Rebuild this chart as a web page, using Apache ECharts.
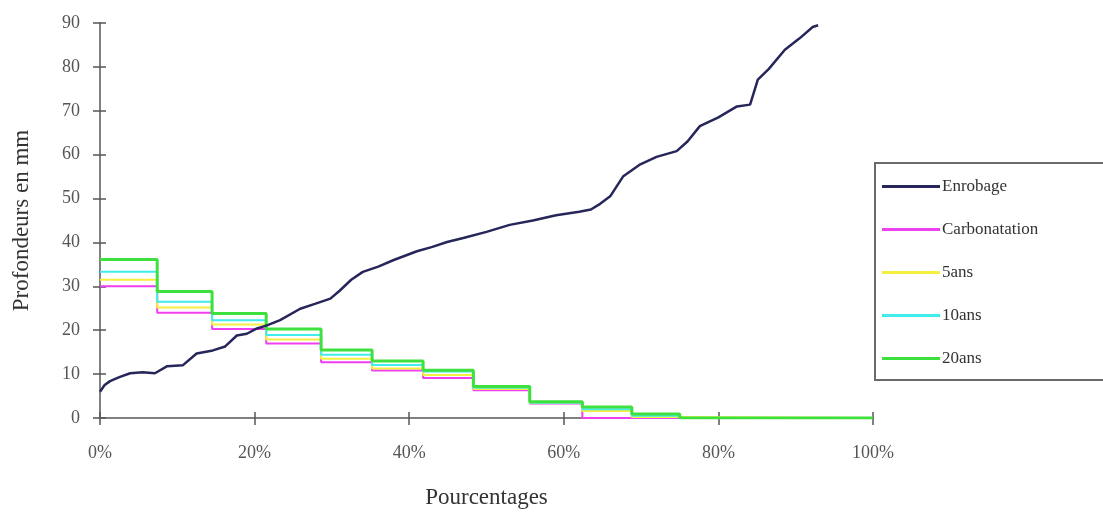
<!DOCTYPE html>
<html>
<head>
<meta charset="utf-8">
<script src="https://cdn.jsdelivr.net/npm/echarts@6/dist/echarts.min.js"></script>
<style>html,body{margin:0;padding:0;background:#fff}#c{width:1103px;height:514px}</style>
</head>
<body>
<div id="c"></div>
<script>
// ---- data ----
var enrobageX = [0, 0.6, 1.3, 2.5, 3.9, 5.5, 7.1, 8.7, 10.7, 12.5, 14.6, 16.2, 17.7, 19.0, 20.3, 21.6, 23.3, 25.9, 27.8, 29.8, 31.0, 32.5, 34.0, 36.0, 38.0, 41.0, 43.0, 44.9, 47.0, 50.0, 53.0, 56.0, 59.0, 62.0, 63.5, 64.7, 66.0, 67.7, 69.9, 72.0, 74.6, 76.0, 77.6, 80.0, 82.4, 84.1, 85.1, 86.5, 88.6, 90.5, 92.2, 92.9];
var enrobage  = [6, 7.5, 8.4, 9.3, 10.2, 10.4, 10.2, 11.8, 12, 14.7, 15.4, 16.3, 18.8, 19.2, 20.4, 21.1, 22.3, 24.9, 26, 27.2, 29, 31.5, 33.3, 34.5, 36, 38, 39, 40.1, 41, 42.4, 44, 45, 46.2, 47, 47.5, 48.8, 50.5, 55.1, 57.8, 59.5, 60.8, 63, 66.5, 68.5, 71, 71.4, 77.1, 79.5, 83.9, 86.5, 89.1, 89.5];
var stepStarts    = [0, 7.4, 14.5, 21.5, 28.6, 35.2, 41.8, 48.3, 55.6, 62.4, 68.8, 75.0, 100];
var carbonatation = [30.0, 24.0, 20.3, 17.0, 12.7, 10.8, 9.1, 6.3, 3.3, 0, 0, 0, 0];
var ans5          = [31.5, 25.2, 21.3, 17.9, 13.5, 11.3, 9.8, 6.6, 3.4, 1.6, 0.2, 0, 0];
var ans10         = [33.3, 26.5, 22.3, 18.9, 14.4, 12.1, 10.6, 6.9, 3.5, 2.0, 0.5, 0, 0];
var ans20         = [36.1, 28.8, 23.8, 20.3, 15.5, 13.0, 10.9, 7.2, 3.7, 2.5, 0.9, 0, 0];
var seriesNames = ['Enrobage', 'Carbonatation', '5ans', '10ans', '20ans'];
var xTitle = 'Pourcentages';
var yTitle = 'Profondeurs en mm';

function pairs(xs, ys){ return xs.map(function(x,i){ return [x, ys[i]]; }); }

var font = 'Liberation Serif, Times New Roman, serif';
var axisCol = '#808080';

var chart = echarts.init(document.getElementById('c'), null, {renderer:'canvas'});
var baseX = {type:'value', min:0, max:100, interval:20, splitLine:{show:false},
  axisLine:{lineStyle:{color:axisCol, width:2}}};
var baseY = {type:'value', min:0, max:90, interval:10, splitLine:{show:false},
  axisLine:{show:true, lineStyle:{color:axisCol, width:2}}};

chart.setOption({
  animation:false,
  grid:{left:100, right:230, top:23, bottom:94},
  xAxis:[
    Object.assign({}, baseX, {
      axisTick:{show:true, inside:false, length:7, lineStyle:{color:'#555', width:1.5}},
      axisLabel:{formatter:'{value}%', color:'#555', fontFamily:font, fontSize:18, margin:26},
      name:xTitle, nameLocation:'middle', nameGap:68,
      nameTextStyle:{color:'#333', fontFamily:font, fontSize:23}
    }),
    Object.assign({}, baseX, {position:'bottom',
      axisTick:{show:true, inside:true, length:6, lineStyle:{color:'#555', width:1.5}},
      axisLabel:{show:false}})
  ],
  yAxis:[
    Object.assign({}, baseY, {
      axisTick:{show:true, inside:false, length:7, lineStyle:{color:'#555', width:1.5}},
      axisLabel:{color:'#555', fontFamily:font, fontSize:18, margin:20},
      name:yTitle, nameLocation:'middle', nameGap:67, nameRotate:90,
      nameTextStyle:{color:'#333', fontFamily:font, fontSize:23}
    }),
    Object.assign({}, baseY, {position:'left',
      axisTick:{show:true, inside:true, length:6, lineStyle:{color:'#555', width:1.5}},
      axisLabel:{show:false}})
  ],
  legend:{
    orient:'vertical', left:882, top:178, padding:0, itemGap:26,
    itemWidth:58, itemHeight:14, icon:'path://M0,5.5 L58,5.5 L58,8.5 L0,8.5 Z',
    data:seriesNames,
    textStyle:{color:'#333', fontFamily:font, fontSize:17, padding:[0,0,0,-3]}
  },
  graphic:[{type:'rect', shape:{x:875, y:163, width:260, height:217},
    style:{fill:'none', stroke:'#6a6a6a', lineWidth:2}, silent:true}],
  series:[
    {name:seriesNames[0], type:'line', data:pairs(enrobageX, enrobage), showSymbol:false, symbol:'none',
      color:'#26265a', lineStyle:{width:2.5, color:'#26265a'}, z:10},
    {name:seriesNames[1], type:'line', step:'end', data:pairs(stepStarts, carbonatation), symbol:'none',
      color:'#ee40ee', lineStyle:{width:2, color:'#ee40ee'}},
    {name:seriesNames[2], type:'line', step:'end', data:pairs(stepStarts, ans5), symbol:'none',
      color:'#f4f040', lineStyle:{width:2, color:'#f4f040'}},
    {name:seriesNames[3], type:'line', step:'end', data:pairs(stepStarts, ans10), symbol:'none',
      color:'#40ecec', lineStyle:{width:2, color:'#40ecec'}},
    {name:seriesNames[4], type:'line', step:'end', data:pairs(stepStarts, ans20), symbol:'none',
      color:'#3ee03e', lineStyle:{width:3, color:'#3ee03e'}}
  ]
});
</script>
</body>
</html>
